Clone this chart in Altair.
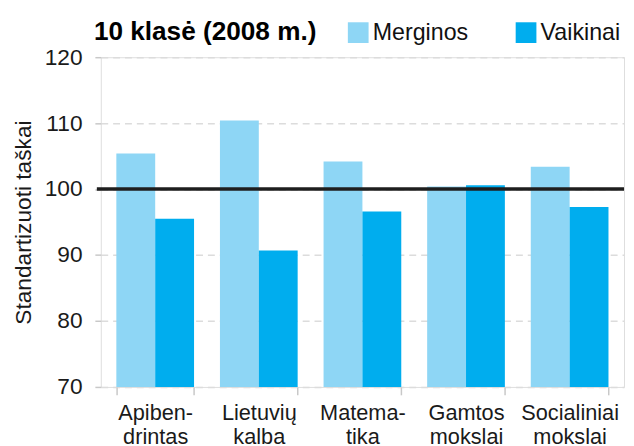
import altair as alt
import pandas as pd

categories = ["Apiben-|drintas", "Lietuvių|kalba", "Matema-|tika", "Gamtos|mokslai", "Socialiniai|mokslai"]
series = ["Merginos", "Vaikinai"]
merginos = [105.4, 110.4, 104.2, 100.4, 103.4]
vaikinai = [95.5, 90.7, 96.6, 100.6, 97.3]
reference = [100]
y_ticks = [70, 80, 90, 100, 110, 120]
colors = ["#8ED6F5", "#00ADEE"]

rows = []
for c, m, v in zip(categories, merginos, vaikinai):
    rows.append({"cat": c, "group": series[0], "value": m})
    rows.append({"cat": c, "group": series[1], "value": v})
df = pd.DataFrame(rows)

W, H = 530, 334
FONT = "Liberation Sans"

bars = alt.Chart(df).mark_bar(clip=True).encode(
    x=alt.X(
        "cat:N",
        sort=categories,
        scale=alt.Scale(paddingInner=0.25, paddingOuter=0.15),
        axis=alt.Axis(
            title=None,
            labelExpr="split(datum.label, '|')",
            labelAngle=0,
            labelFontSize=22,
            labelLineHeight=24,
            labelColor="#1a1a1a",
            labelFont=FONT,
            labelPadding=8,
            labelBaseline="top",
            tickBand="extent",
            tickSize=8,
            tickColor="#c8c8c8",
            tickWidth=1.5,
            domain=False,
            grid=False,
        ),
    ),
    xOffset=alt.XOffset("group:N", sort=series, scale=alt.Scale(paddingInner=0, paddingOuter=0)),
    y=alt.Y(
        "value:Q",
        scale=alt.Scale(domain=[70, 120], zero=False, nice=False),
        axis=alt.Axis(
            title="Standartizuoti taškai",
            titleFontSize=23,
            titleFontWeight="normal",
            titleFont=FONT,
            titleColor="#1a1a1a",
            titlePadding=9,
            values=y_ticks,
            labelFontSize=23,
            labelFont=FONT,
            labelColor="#1a1a1a",
            labelPadding=13,
            tickSize=6,
            tickColor="#c8c8c8",
            tickWidth=1.5,
            domain=False,
            grid=True,
            gridColor="#dcdcdc",
            gridDash=[7, 5],
            gridWidth=1.5,
        ),
    ),
    color=alt.Color(
        "group:N",
        scale=alt.Scale(domain=series, range=colors),
        legend=alt.Legend(
            title=None,
            orient="none",
            direction="horizontal",
            legendX=249,
            legendY=-37,
            symbolType="square",
            symbolSize=441,
            symbolStrokeWidth=0,
            symbolOpacity=1,
            labelFontSize=23.5,
            labelFont=FONT,
            labelColor="#111111",
            labelOffset=3,
            columnPadding=46,
            padding=0,
        ),
    ),
)

rule = alt.Chart(pd.DataFrame({"v": reference})).mark_rule(color="#1e1e1e", strokeWidth=3.5).encode(
    y=alt.Y("v:Q"),
    x=alt.value(-4),
    x2=alt.value(W),
)

chart = alt.layer(bars, rule).properties(
    width=W,
    height=H,
    autosize=alt.AutoSizeParams(type="none"),
    padding={"left": 94, "top": 47, "right": 2, "bottom": 57},
    title=alt.TitleParams(
        "10 klasė (2008 m.)",
        anchor="start",
        frame="group",
        fontSize=26.5,
        fontWeight="bold",
        font=FONT,
        color="#000000",
        offset=-25,
        dx=-7,
    ),
).configure_view(
    stroke="#6f6f6f",
    strokeWidth=2.5,
).configure(background="white")

chart.save("out.html", embed_options={"renderer": "svg", "actions": False})
